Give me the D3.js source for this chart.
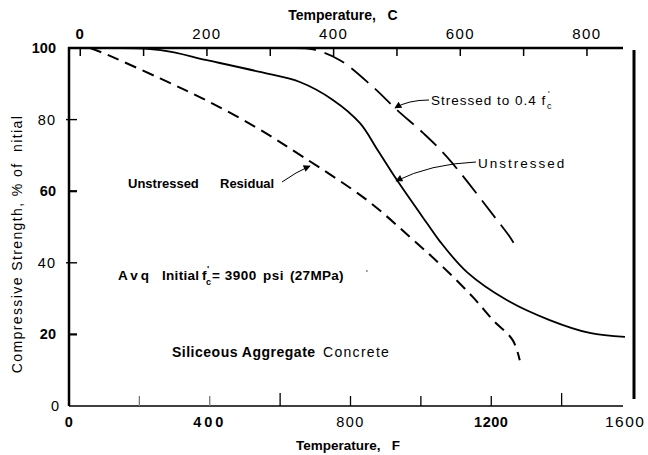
<!DOCTYPE html>
<html>
<head>
<meta charset="utf-8">
<script src="https://cdn.jsdelivr.net/npm/d3@7/dist/d3.min.js"></script>
<style>
  html, body { margin: 0; padding: 0; background: #fff; }
  svg { display: block; }
  .bold { font-family: "Liberation Sans", Arial, sans-serif; font-weight: bold; }
  .thin { font-family: "Liberation Sans", Arial, sans-serif; font-weight: normal; letter-spacing: 0.6px; }
</style>
</head>
<body>
<svg id="chart" width="648" height="455"></svg>
<script>
// Compressive strength of siliceous aggregate concrete vs. temperature (°F)
const unstressedF   = [60, 260, 392, 543, 656, 750, 827, 877, 932, 1017, 1054, 1131, 1244, 1366, 1480, 1580];
const unstressedPct = [100, 99.4, 96.6, 93.3, 90.5, 85.5, 79, 71.5, 63.1, 51.1, 46, 37.4, 29.6, 24, 20.4, 19.3];

const residualF   = [60, 97, 259, 392, 534, 665, 847, 969, 1063, 1148, 1205, 1261, 1281];
const residualPct = [100, 98.6, 91.5, 85.3, 77.7, 69.6, 57.5, 47.2, 38.8, 30.4, 24, 18.4, 12.8];

const stressedF   = [640, 693, 770, 864, 932, 1006, 1074, 1216, 1253, 1267];
const stressedPct = [100, 99.6, 96.6, 89.1, 82.7, 76.3, 69.6, 52, 47.2, 45];

const fTicks      = [0, 400, 800, 1200, 1600];
const fMinorTicks = [200, 600, 1000, 1400];
const cLabels     = [0, 200, 400, 600, 800];
const cTicks      = [0, 100, 200, 300, 400, 500, 600, 700, 800];
const pctTicks    = [0, 20, 40, 60, 80, 100];

const svg = d3.select("#chart");

const x = d3.scaleLinear().domain([0, 1600]).range([69, 632]);
const y = d3.scaleLinear().domain([0, 100]).range([406, 48]);
const cToX = c => x(c * 9 / 5 + 32);

const plotL = 69, plotR = 623, plotT = 48, plotB = 406;

// frame lines
svg.append("line").attr("x1", plotL).attr("x2", plotL).attr("y1", plotT - 1).attr("y2", plotB)
  .attr("stroke", "#000").attr("stroke-width", 2.5);
svg.append("line").attr("x1", plotL - 1).attr("x2", plotR).attr("y1", plotT).attr("y2", plotT)
  .attr("stroke", "#000").attr("stroke-width", 2.5);
svg.append("line").attr("x1", plotL).attr("x2", plotR).attr("y1", plotB).attr("y2", plotB)
  .attr("stroke", "#000").attr("stroke-width", 1.6);
svg.append("line").attr("x1", 634).attr("x2", 634).attr("y1", 50).attr("y2", 399)
  .attr("stroke", "#000").attr("stroke-width", 3);

// bottom axis ticks (°F), pointing inward
svg.selectAll(".ftick").data(fTicks.concat(fMinorTicks).filter(d => d > 0 && d < 1600))
  .join("line").attr("class", "ftick")
  .attr("x1", d => x(d)).attr("x2", d => x(d))
  .attr("y1", plotB).attr("y2", d => d === 600 || d === 1400 ? plotB - 13 : plotB - 10)
  .attr("stroke", d => d === 200 || d === 400 ? "#777" : "#000").attr("stroke-width", 1.3);

// bottom tick labels
const fLabelStyle = { 0: "bold", 400: "bold", 800: "thin", 1200: "bold", 1600: "thin" };
svg.selectAll(".flab").data(fTicks).join("text").attr("class", d => "flab " + fLabelStyle[d])
  .attr("x", d => d === 1600 ? 605 : x(d))
  .attr("y", 427)
  .attr("text-anchor", d => d === 1600 ? "start" : "middle")
  .attr("font-size", d => d === 1600 ? 15.5 : 14.5)
  .style("letter-spacing", d => d === 400 ? "3px" : d === 1600 ? "1.5px" : d === 800 ? "1.5px" : "0.5px")
  .text(d => d);

svg.append("text").attr("class", "bold").attr("x", 348).attr("y", 450)
  .attr("text-anchor", "middle").attr("font-size", 13.5)
  .attr("xml:space", "preserve").text("Temperature,   F");

// top axis ticks (°C), pointing down into the plot
svg.selectAll(".ctick").data(cTicks).join("line").attr("class", "ctick")
  .attr("x1", d => cToX(d)).attr("x2", d => cToX(d))
  .attr("y1", plotT).attr("y2", plotT + 8)
  .attr("stroke", "#000").attr("stroke-width", 1.5);

svg.selectAll(".clab").data(cLabels).join("text").attr("class", d => "clab " + (d === 0 ? "bold" : "thin"))
  .attr("x", d => cToX(d)).attr("y", 39)
  .attr("text-anchor", "middle").attr("font-size", 15)
  .style("letter-spacing", "1.4px")
  .text(d => d);

svg.append("text").attr("class", "bold").attr("x", 343).attr("y", 20)
  .attr("text-anchor", "middle").attr("font-size", 14)
  .attr("xml:space", "preserve").text("Temperature,   C");

// left axis ticks and labels
svg.selectAll(".ptick").data(pctTicks.filter(d => d > 0 && d < 100)).join("line").attr("class", "ptick")
  .attr("x1", d => d === 80 || d === 40 ? plotL - 3 : plotL)
  .attr("x2", plotL + 8)
  .attr("y1", d => y(d)).attr("y2", d => y(d))
  .attr("stroke", "#000").attr("stroke-width", d => d === 60 || d === 20 ? 2.2 : 1.4);

const pStyle = { 0: "thin", 20: "bold", 40: "thin", 60: "bold", 80: "thin", 100: "bold" };
svg.selectAll(".plab").data(pctTicks).join("text").attr("class", d => "plab " + pStyle[d])
  .attr("x", d => d === 0 ? 60 : 56).attr("y", d => y(d) + 5)
  .attr("text-anchor", "end").attr("font-size", 14.5)
  .style("letter-spacing", d => pStyle[d] === "thin" ? "1px" : "0px")
  .text(d => d);

svg.append("text").attr("class", "thin")
  .attr("transform", "translate(22,244) rotate(-90)")
  .attr("text-anchor", "middle").attr("font-size", 14)
  .style("letter-spacing", "1.4px")
  .attr("xml:space", "preserve")
  .text("Compressive Strength, % of  nitial");

// curves
const line = d3.line().x(d => x(d[0])).y(d => y(d[1])).curve(d3.curveCatmullRom.alpha(0.5));
const zip = (a, b) => a.map((v, i) => [v, b[i]]);

svg.append("path").datum(zip(unstressedF, unstressedPct)).attr("d", line)
  .attr("fill", "none").attr("stroke", "#000").attr("stroke-width", 1.8);
svg.append("path").datum(zip(residualF, residualPct)).attr("d", line)
  .attr("fill", "none").attr("stroke", "#000").attr("stroke-width", 2)
  .attr("stroke-dasharray", "12,7");
svg.append("path").datum(zip(stressedF, stressedPct)).attr("d", line)
  .attr("fill", "none").attr("stroke", "#000").attr("stroke-width", 1.8)
  .attr("stroke-dasharray", "22,9");

// arrowhead marker
svg.append("defs").append("marker").attr("id", "arrow")
  .attr("viewBox", "0 0 10 10").attr("refX", 9).attr("refY", 5)
  .attr("markerWidth", 9).attr("markerHeight", 7).attr("orient", "auto")
  .attr("markerUnits", "userSpaceOnUse")
  .append("path").attr("d", "M0,0 L10,5 L0,10 Z").attr("fill", "#000");

function leader(x0, y0, cx, cy, x1, y1) {
  svg.append("path").attr("d", `M${x0},${y0} Q${cx},${cy} ${x1},${y1}`)
    .attr("fill", "none").attr("stroke", "#000").attr("stroke-width", 1)
    .attr("marker-end", "url(#arrow)");
}

// annotations
svg.append("text").attr("class", "thin").attr("x", 431).attr("y", 105).attr("font-size", 13.5)
  .style("letter-spacing", "1px").text("Stressed to 0.4 f");
svg.append("text").attr("class", "thin").attr("x", 548).attr("y", 97).attr("font-size", 9).text("'");
svg.append("text").attr("class", "thin").attr("x", 547).attr("y", 109).attr("font-size", 9).text("c");
leader(429, 100, 408, 100, 395, 108);

svg.append("text").attr("class", "thin").attr("x", 478).attr("y", 168).attr("font-size", 13.5)
  .style("letter-spacing", "2px").text("Unstressed");
leader(476, 162, 430, 164, 396, 181);

svg.append("text").attr("class", "bold").attr("x", 128).attr("y", 188).attr("font-size", 13)
  .text("Unstressed");
svg.append("text").attr("class", "bold").attr("x", 220).attr("y", 188).attr("font-size", 13)
  .text("Residual");
leader(282, 182, 296, 172, 310, 166);

// average initial strength note
const note = (txt, xx, yy, size, cls, ls) => svg.append("text").attr("class", cls)
  .attr("x", xx).attr("y", yy).attr("font-size", size).style("letter-spacing", ls || "0px").text(txt);
note("Avq", 118, 280, 13.5, "bold", "3px");
note("Initial", 162, 280, 13.5, "bold", "0.3px");
note("f", 202, 280, 13.5, "bold");
note("'", 207, 272, 9, "bold");
note("c", 206, 285, 9, "bold");
note("= 3900", 212, 280, 13.5, "bold", "0.5px");
note("psi", 263, 280, 13.5, "bold", "0.5px");
note("(27MPa)", 290, 280, 13.5, "bold", "0.3px");
note("'", 366, 276, 9, "thin");

svg.append("text").attr("class", "bold").attr("x", 172).attr("y", 357).attr("font-size", 14)
  .style("letter-spacing", "0.5px").text("Siliceous Aggregate");
svg.append("text").attr("class", "thin").attr("x", 323).attr("y", 357).attr("font-size", 14)
  .style("letter-spacing", "1.3px").text("Concrete");
</script>
</body>
</html>
